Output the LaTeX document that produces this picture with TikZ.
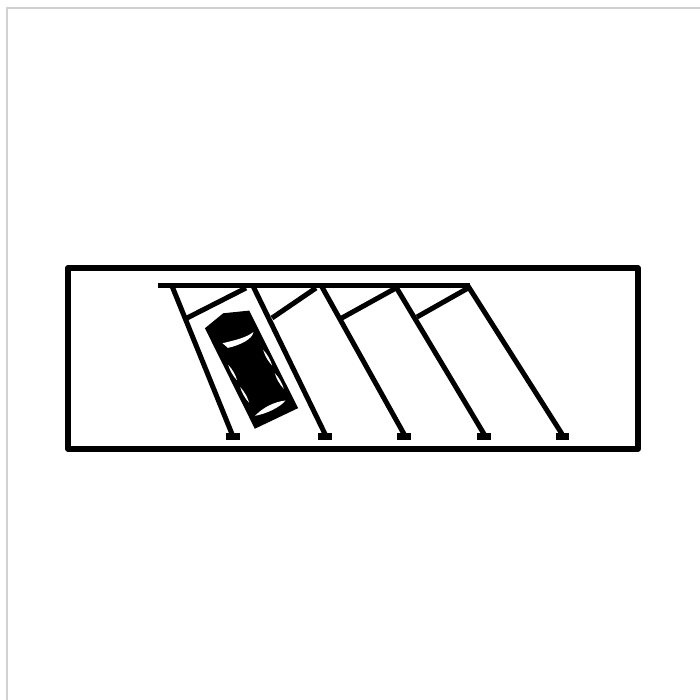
\documentclass[tikz,border=0pt]{standalone}
\tikzset{
  px/.style={x=0.01cm,y=-0.01cm},
  heavy/.style={line width=0.058cm,black},
  rack/.style={line width=0.05cm,black},
  winpane/.style={fill=white,draw=none},
  sidepane/.pic={\fill[white] (0,0) .. controls (12,12) and (23,32) .. (27,47) .. controls (15,35) and (4,15) .. (0,0) -- cycle;},
}
\begin{document}
\begin{tikzpicture}[px]
\useasboundingbox (0,0) rectangle (700,700);
\fill[white] (0,0) rectangle (700,700);
% page edge
\draw[line width=0.02cm,black!18] (7,700) -- (7,8) -- (700,8);
% outer frame
\draw[heavy,line join=round] (68,268) rectangle (638,449);
% top bar
\draw[heavy] (158,285.5) -- (470,285.5);
% slanted stalls
\draw[rack] (172,286) -- (232,434);
\draw[rack] (253,286) -- (325,434);
\draw[rack] (322,287) -- (404,434);
\draw[rack] (396,287) -- (484,434);
\draw[rack] (468,286) -- (562,434);
% cross braces
\draw[rack] (187,318) -- (246,288);
\draw[rack] (272,318) -- (316,288);
\draw[rack] (340,319) -- (396,288);
\draw[rack] (417,317) -- (470,287);
% feet
\foreach \xa/\xb in {226/240,318/332,397/411,477/491,556/569}
  \fill (\xa,433) rectangle (\xb,440);
% car
\begin{scope}[shift={(150,270)},x=0.00333cm,y=-0.00333cm]
  \fill (165,175) -- (220,130) -- (298,122) -- (445,415) -- (315,477) -- cycle;
  \fill[winpane] (218,220) .. controls (260,210) and (290,203) .. (311,186) .. controls (308,208) and (270,226) .. (234,234) -- cycle;
  \fill[winpane] (316,438) .. controls (340,412) and (375,396) .. (407,392) .. controls (392,412) and (350,432) .. (316,438) -- cycle;
  \pic at (340,240) {sidepane};
  \pic at (375,310) {sidepane};
  \pic at (235,285) {sidepane};
  \pic at (271,352) {sidepane};
\end{scope}
\end{tikzpicture}
\end{document}
